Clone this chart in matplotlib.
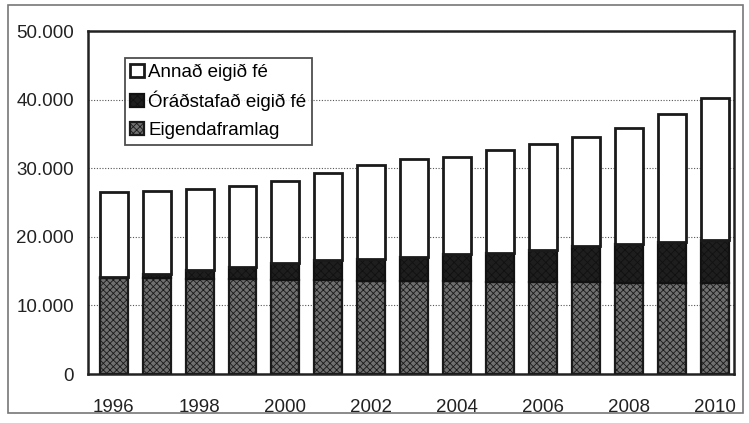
import numpy as np
import matplotlib.pyplot as plt
from matplotlib.patches import Rectangle

years = list(range(1996, 2011))
# values in millions
eigendaframlag = [14000, 14000, 13900, 13800, 13700, 13700, 13600, 13500,
                  13500, 13400, 13400, 13400, 13300, 13300, 13300]
oradstafad = [100, 600, 1300, 1800, 2500, 2900, 3200, 3600,
              4000, 4300, 4700, 5200, 5700, 5900, 6300]
annad = [12400, 12100, 11700, 11800, 12000, 12700, 13700, 14200,
         14200, 14900, 15400, 15900, 16900, 18700, 20600]
xlabels = ['1996', '1998', '2000', '2002', '2004', '2006', '2008', '2010']
yticks = [0, 10000, 20000, 30000, 40000, 50000]

plt.rcParams['font.family'] = ['Liberation Sans', 'DejaVu Sans']
plt.rcParams['hatch.linewidth'] = 0.6

fig = plt.figure(figsize=(7.49, 4.23), dpi=100)
ax = fig.add_axes([88 / 749, 1 - 374 / 423, (734 - 88) / 749, (374 - 31) / 423])

x = np.arange(len(years))
w = 0.65
b1 = np.array(eigendaframlag)
b2 = b1 + np.array(oradstafad)

ax.bar(x, eigendaframlag, w, color='#707070', hatch='xxxxx', edgecolor='#1a1a1a',
       linewidth=1.6, label='Eigendaframlag', zorder=3)
ax.bar(x, oradstafad, w, bottom=b1, color='#1e1e1e', hatch='xxxx', edgecolor='#111111',
       linewidth=1.6, label='Óráðstafað eigið fé', zorder=3)
ax.bar(x, annad, w, bottom=b2, color='white', edgecolor='#1a1a1a',
       linewidth=2.0, label='Annað eigið fé', zorder=3)

ax.set_ylim(0, 50000)
ax.set_xlim(-0.6, len(years) - 0.55)
ax.set_yticks(yticks)
ax.set_yticklabels([f'{v:,}'.replace(',', '.') for v in yticks], fontsize=13.5,
                   color='#222222')
ax.set_xticks(x[::2])
ax.set_xticklabels(xlabels, fontsize=13.5, color='#222222')
ax.tick_params(length=0, pad=10)
ax.tick_params(axis='x', pad=18)
ax.grid(axis='y', linestyle=(0, (1, 1.5)), color='#555555', linewidth=0.8, zorder=0)
for s in ax.spines.values():
    s.set_linewidth(1.8)
    s.set_color('#222222')

h, l = ax.get_legend_handles_labels()
leg = ax.legend(h[::-1], l[::-1], loc='upper left', bbox_to_anchor=(0.057, 0.922),
                fontsize=13.5, frameon=True, fancybox=False, edgecolor='#222222',
                handlelength=0.7, handleheight=0.7, handletextpad=0.25,
                labelspacing=0.55, borderpad=0.3, borderaxespad=0)
leg.get_frame().set_linewidth(1.3)

fig.patches.append(Rectangle((8 / 749, 1 - 413 / 423), (743 - 8) / 749, (413 - 5) / 423,
                             transform=fig.transFigure, fill=False,
                             edgecolor='#777777', linewidth=1.2))

fig.savefig('out.png', dpi=100)
